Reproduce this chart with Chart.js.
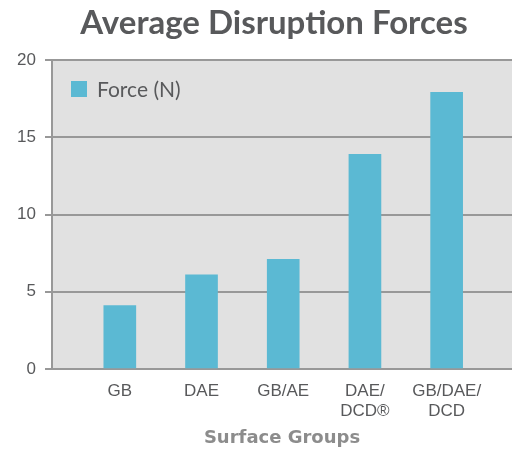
<!DOCTYPE html>
<html>
<head>
<meta charset="utf-8">
<script src="https://cdn.jsdelivr.net/npm/chart.js@4.4.1/dist/chart.umd.min.js"></script>
<style>
  html, body { margin: 0; padding: 0; background: #fff; overflow: hidden; }
  #wrap { width: 512px; height: 449px; }
</style>
</head>
<body>
<div id="wrap"><canvas id="chart" width="512" height="449"></canvas></div>
<script>
// Data
const categories = [["GB"], ["DAE"], ["GB/AE"], ["DAE/", "DCD®"], ["GB/DAE/", "DCD"]];
const forces = [4.1, 6.1, 7.1, 13.9, 17.9];
const yTicks = [0, 5, 10, 15, 20];
const seriesLabel = "Force (N)";
const chartTitle = "Average Disruption Forces";

const barColor = "#5bb9d3";
const gridColor = "#989898";
const textColor = "#58595b";

// Grey plot background
const plotBg = {
  id: "plotBg",
  beforeDraw(chart) {
    const { ctx, chartArea: a } = chart;
    ctx.save();
    ctx.fillStyle = "#e1e1e1";
    ctx.fillRect(a.left, a.top, a.right - a.left, a.bottom - a.top);
    ctx.restore();
  }
};

// Title (sits a bit right of centre in the original) + legend inside the plot
const overlay = {
  id: "overlay",
  afterDraw(chart) {
    const { ctx, chartArea: a } = chart;
    const ds = chart.data.datasets[0];
    ctx.save();
    ctx.fillStyle = textColor;
    ctx.font = "bold 33px Lato";
    ctx.textAlign = "center";
    ctx.textBaseline = "alphabetic";
    ctx.fillText(chartTitle, 274, 34);

    ctx.textAlign = "left";
    ctx.fillStyle = ds.backgroundColor;
    ctx.fillRect(a.left + 19, a.top + 21, 16, 16);
    ctx.fillStyle = textColor;
    ctx.font = "21px Lato";
    ctx.textBaseline = "middle";
    ctx.fillText(ds.label, a.left + 45, a.top + 30);
    ctx.restore();
  }
};

new Chart(document.getElementById("chart"), {
  type: "bar",
  data: {
    datasets: [{
      label: seriesLabel,
      data: forces.map((v, i) => ({ x: i + 1, y: v })),
      backgroundColor: barColor,
      barThickness: 32
    }]
  },
  options: {
    responsive: false,
    animation: false,
    layout: { padding: { top: 60, left: 0, right: 0, bottom: 0 } },
    plugins: {
      legend: { display: false },
      tooltip: { enabled: false },
      title: { display: false }
    },
    scales: {
      x: {
        type: "linear",
        offset: false,
        min: 0.17,
        max: 5.8,
        afterBuildTicks(scale) {
          scale.ticks = categories.map((c, i) => ({ value: i + 1 }));
        },
        afterFit(scale) { scale.height = 80; },
        grid: { display: false },
        border: { display: false },
        ticks: {
          autoSkip: false,
          maxRotation: 0,
          color: textColor,
          padding: 5,
          font: { family: "Liberation Sans", size: 17, lineHeight: 1.15 },
          callback: v => categories[v - 1]
        },
        title: {
          display: true,
          text: "Surface Groups",
          color: "#8c8c8c",
          font: { family: "DejaVu Sans", size: 18, weight: "bold" },
          padding: { top: 0, bottom: 0 }
        }
      },
      y: {
        min: 0,
        max: 20,
        afterBuildTicks(scale) {
          scale.ticks = yTicks.map(v => ({ value: v }));
        },
        afterFit(scale) { scale.width = 52; },
        grid: { color: gridColor, lineWidth: 2, tickLength: 7 },
        border: { display: true, color: gridColor, width: 2 },
        ticks: {
          color: textColor,
          padding: 9,
          font: { family: "Liberation Sans", size: 17 }
        }
      }
    }
  },
  plugins: [plotBg, overlay]
});
</script>
</body>
</html>
